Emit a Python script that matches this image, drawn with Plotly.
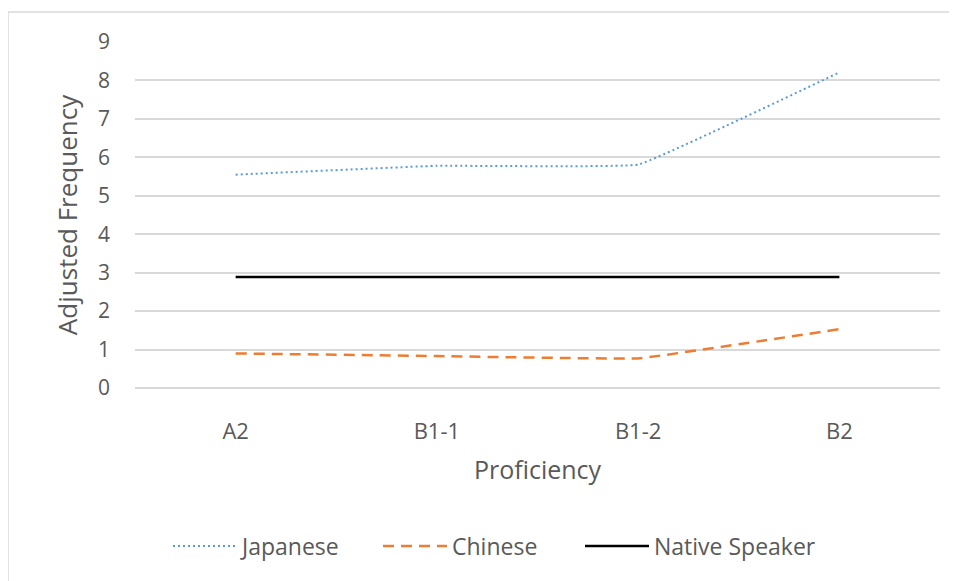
import plotly.graph_objects as go

categories = ["A2", "B1-1", "B1-2", "B2"]
japanese = [5.55, 5.78, 5.81, 8.21]
chinese = [0.90, 0.83, 0.77, 1.53]
native = [2.89, 2.89, 2.89, 2.89]
y_ticks = [0, 1, 2, 3, 4, 5, 6, 7, 8, 9]

font_family = "Open Sans, Noto Sans, sans-serif"
txt = "#595959"

# plot area in figure px (page body has an 8px offset)
L, T, R, B = 127, 34, 932, 380
W, H = 957, 581
pw, ph = R - L, B - T

fig = go.Figure()
fig.add_trace(go.Scatter(x=categories, y=japanese, name="Japanese", mode="lines", legend="legend",
                         line=dict(color="#5B9BD5", width=2, dash="2px,3px", shape="spline", smoothing=0.2)))
fig.add_trace(go.Scatter(x=categories, y=chinese, name="Chinese", mode="lines", legend="legend2",
                         line=dict(color="#ED7D31", width=2.5, dash="11px,7px", shape="spline", smoothing=0.2)))
fig.add_trace(go.Scatter(x=categories, y=native, name="Native Speaker", mode="lines", legend="legend3",
                         line=dict(color="#000000", width=2.5)))


def leg(px):
    return dict(orientation="h", x=(px - L) / pw, xanchor="left", y=(B - 538) / ph, yanchor="middle",
                font=dict(size=23, color=txt), itemwidth=64, bgcolor="rgba(0,0,0,0)")


fig.update_layout(
    width=W, height=H,
    margin=dict(l=L, r=W - R, t=T, b=H - B),
    paper_bgcolor="white", plot_bgcolor="white",
    font=dict(family=font_family, color=txt, size=20),
    showlegend=True,
    legend=leg(160), legend2=leg(370), legend3=leg(572),
    xaxis=dict(type="category", range=[-0.5, 3.5], showgrid=False, showline=False,
               ticks="", tickfont=dict(size=22, color=txt), ticklabelstandoff=28,
               title=dict(text="Proficiency", font=dict(size=25, color=txt), standoff=17)),
    yaxis=dict(range=[0, 9], tickvals=y_ticks, showgrid=True, gridcolor="#D9D9D9", gridwidth=1.5,
               zeroline=True, zerolinecolor="#D9D9D9", zerolinewidth=1.5,
               showline=False, ticks="", tickfont=dict(size=21, color=txt), ticklabelstandoff=24,
               title=dict(text="Adjusted Frequency", font=dict(size=26, color=txt), standoff=12)),
    shapes=[dict(type="rect", xref="paper", yref="paper",
                 x0=(0 - L) / pw, x1=(W + 20 - L) / pw, y0=(B - (H + 20)) / ph, y1=(B - 4) / ph,
                 line=dict(color="#D9D9D9", width=1.5), fillcolor="rgba(0,0,0,0)", layer="below")],
)

fig.write_html("out.html")
